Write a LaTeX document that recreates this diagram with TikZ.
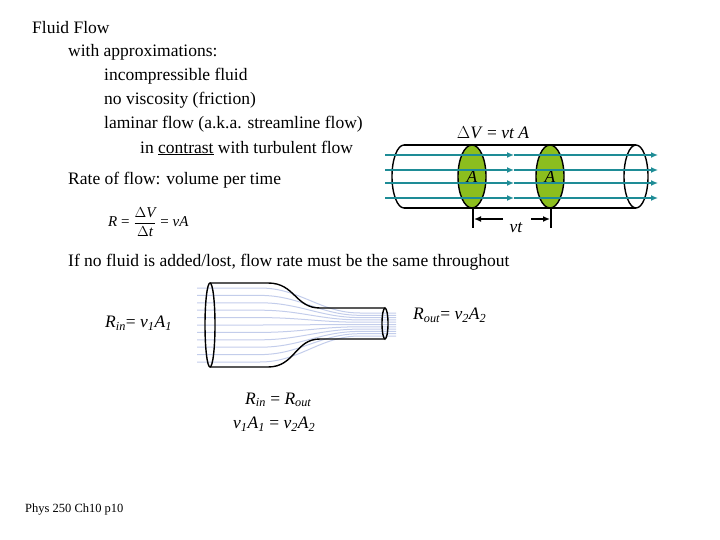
\documentclass[tikz,border=0pt]{standalone}
\usepackage{fontspec}
\setmainfont{Liberation Serif}
\usetikzlibrary{positioning}
\usetikzlibrary{calc,shapes.geometric,arrows.meta}
\definecolor{teal}{RGB}{30,140,150}
\definecolor{leaf}{RGB}{140,190,30}
\definecolor{stream}{RGB}{195,205,235}
\newcommand{\vi}[1]{\textit{#1}}
\newcommand{\sub}[2]{\textit{#1}\textsubscript{\textit{#2}}}
\tikzset{
  txt/.style={anchor=west,inner sep=0pt,font=\fontsize{17.5}{20}\selectfont},
  flow/.style={teal,line width=1.3pt,-{Latex[length=7pt,width=6pt]}},
  tube/.style={black,line width=1.4pt},
}
\begin{document}
\begin{tikzpicture}[x=1pt,y=-1pt]
\useasboundingbox (0,0) rectangle (720,540);
% text column
\node[txt](t1) at (32,28){Fluid Flow};
\node[txt](t2) at (68,52){with approximations:};
\node[txt](t3) at (104,76){incompressible fluid};
\node[txt](t4) at (104,100){no viscosity (friction)};
\node[txt](t5) at (104,124){laminar flow (a.k.a. streamline flow)};
\node[txt](t6) at (140,148){in \underline{contrast} with turbulent flow};
\node[txt](rate) at (68,180){Rate of flow: volume per time};
\node[txt,font=\fontsize{15}{17}\selectfont](eq) at (108,222){\vi{R} = $\displaystyle\frac{\Delta \textit{V}}{\Delta \textit{t}}$ = \vi{vA}};
\node[txt](same) at (68,262){If no fluid is added/lost, flow rate must be the same throughout};
% cylinder
\begin{scope}
\clip (380,130) rectangle (404,220);
\draw[tube] (404,176.5) ellipse[x radius=12,y radius=31.5];
\end{scope}
\draw[tube] (404,145) -- (636,145);
\draw[tube] (404,208) -- (636,208);
\draw[tube] (636,176.5) ellipse[x radius=12,y radius=31.5];
\node[ellipse,draw,line width=1.4pt,fill=leaf,minimum width=28,minimum height=63,inner sep=0pt](A1) at (472,176.5){};
\node[ellipse,draw,line width=1.4pt,fill=leaf,minimum width=28,minimum height=63,inner sep=0pt](A2) at (550,176.5){};
\node[font=\fontsize{17.5}{20}\selectfont] at (A1){\vi{A}};
\node[font=\fontsize{17.5}{20}\selectfont] at (A2){\vi{A}};
\foreach \y in {155,170,183,198}{
  \coordinate (s\y) at (385,\y);
  \coordinate (m\y) at (514,\y);
  \coordinate (e\y) at (658,\y);
  \draw[flow] (s\y) -- (m\y);
  \draw[flow] (m\y) -- (e\y);
}
\node[font=\fontsize{17.5}{20}\selectfont](dV) at (493,133){$\Delta$\vi{V} = \vi{vt A}};
\coordinate (a1) at (473,208); \coordinate (a1b) at (473,228);
\coordinate (a2) at (551,208); \coordinate (a2b) at (551,228);
\draw[line width=1.4pt] (a1) -- (a1b);
\draw[line width=1.4pt] (a2) -- (a2b);
\node[font=\fontsize{17.5}{20}\selectfont](vt) at (516,228){\vi{vt}};
\draw[line width=1.4pt,-{Latex[length=7pt,width=6pt]}] (503,219) -- (474,219);
\draw[line width=1.4pt,-{Latex[length=7pt,width=6pt]}] (531,219) -- (550,219);
% nozzle
\foreach \i in {0,...,10}{
  \pgfmathsetmacro{\ya}{288+\i*7.4}
  \pgfmathsetmacro{\yb}{313+\i*2.3}
  \draw[stream,line width=1pt] (197,\ya) -- (260,\ya) .. controls (300,\ya) and (320,\yb) .. (360,\yb) -- (396,\yb);
}
\draw[tube] (210,283) -- (268,283) .. controls (295,283) and (295,308) .. (320,308) -- (385,308);
\draw[tube] (210,367) -- (268,367) .. controls (295,367) and (295,339) .. (320,339) -- (385,339);
\draw[tube] (210,325) ellipse[x radius=5,y radius=42];
\draw[tube] (385,323.5) ellipse[x radius=3,y radius=15.5];
\node[txt](rin) at (105,323){\sub{R}{in}= \sub{v}{1}\sub{A}{1}};
\node[txt](rout) at (413,315){\sub{R}{out}= \sub{v}{2}\sub{A}{2}};
\node[txt](eq1) at (245,400){\sub{R}{in} = \sub{R}{out}};
\node[txt](eq2) at (233,424){\sub{v}{1}\sub{A}{1} = \sub{v}{2}\sub{A}{2}};
\node[txt,font=\fontsize{12.5}{14}\selectfont](foot) at (25,510){Phys 250 Ch10 p10};
\end{tikzpicture}
\end{document}
